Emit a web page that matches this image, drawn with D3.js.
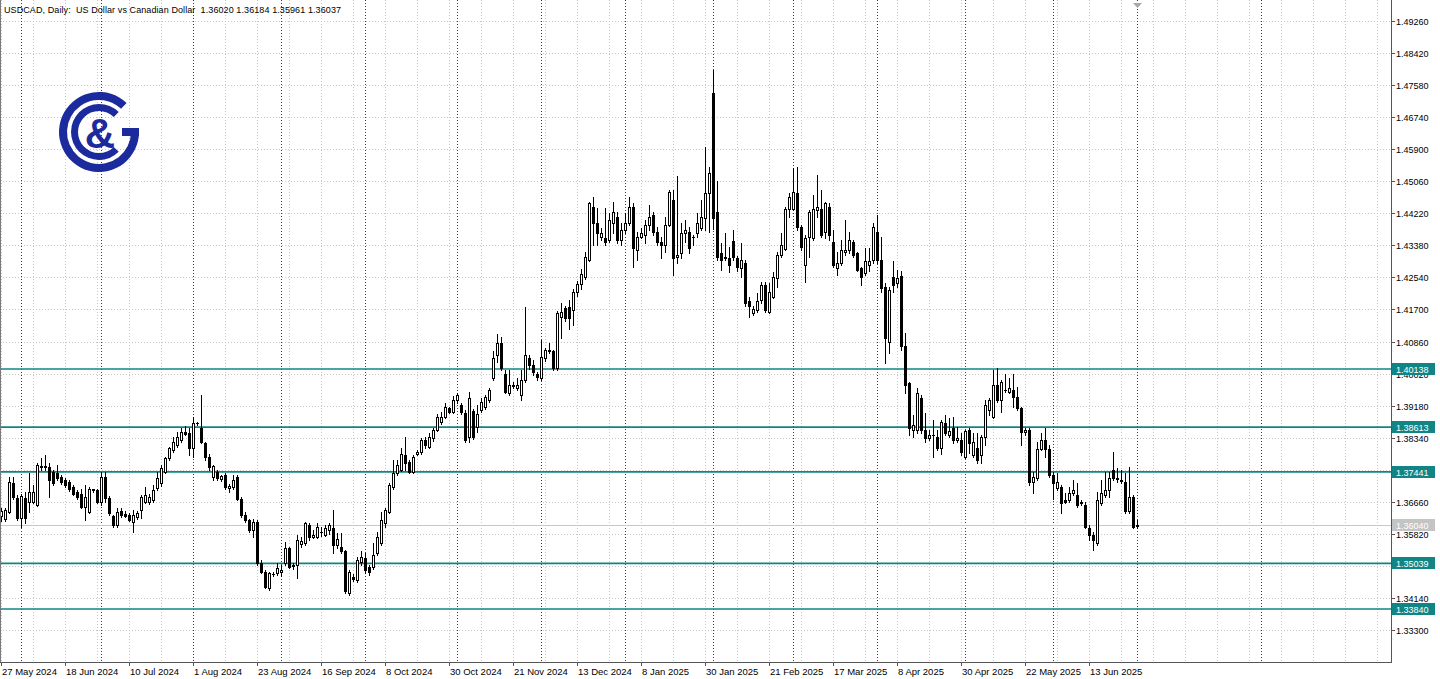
<!DOCTYPE html>
<html><head><meta charset="utf-8">
<script src="https://cdn.jsdelivr.net/npm/d3@7"></script>
<style>
html,body{margin:0;padding:0;background:#fff;overflow:hidden}
svg{display:block}
text{font-family:"Liberation Sans",Arial,sans-serif}
</style></head><body>
<svg id="chart" width="1440" height="679"></svg>
<script>
const title = "USDCAD, Daily:  US Dollar vs Canadian Dollar  1.36020 1.36184 1.35961 1.36037";
const dateLabels = ["27 May 2024","18 Jun 2024","10 Jul 2024","1 Aug 2024","23 Aug 2024","16 Sep 2024","8 Oct 2024","30 Oct 2024","21 Nov 2024","13 Dec 2024","8 Jan 2025","30 Jan 2025","21 Feb 2025","17 Mar 2025","8 Apr 2025","30 Apr 2025","22 May 2025","13 Jun 2025"];
const dateLabelBars = [0,16,32,48,64,80,96,112,128,144,160,176,192,208,224,240,256,272];
const monthStartBars = [5,25,48,70,91,114,135,156,178,198,219,241,263,284,315];
const priceTicks = [1.49260,1.48420,1.47580,1.46740,1.45900,1.45060,1.44220,1.43380,1.42540,1.41700,1.40860,1.40020,1.39180,1.38340,1.37500,1.36660,1.35820,1.34980,1.34140,1.33300];
const levels = [1.40138,1.38613,1.37441,1.35039,1.33840];
const lastPrice = 1.36040;

const open = [1.3628,1.3619,1.3639,1.3714,1.3675,1.3622,1.3675,1.3666,1.3666,1.3657,1.3760,1.3756,1.3756,1.3744,1.3740,1.3731,1.3722,1.3718,1.3705,1.3692,
1.3687,1.3652,1.3639,1.3696,1.3696,1.3666,1.3731,1.3675,1.3628,1.3604,1.3642,1.3634,1.3631,1.3613,1.3626,1.3644,1.3666,1.3666,1.3670,1.3701,
1.3714,1.3744,1.3779,1.3801,1.3814,1.3828,1.3849,1.3845,1.3806,1.3871,1.3860,1.3819,1.3784,1.3731,1.3744,1.3725,1.3736,1.3701,1.3705,1.3731,
1.3674,1.3630,1.3617,1.3591,1.3613,1.3504,1.3482,1.3439,1.3476,1.3478,1.3480,1.3504,1.3543,1.3500,1.3500,1.3555,1.3556,1.3604,1.3574,1.3574,
1.3587,1.3578,1.3591,1.3596,1.3552,1.3548,1.3535,1.3425,1.3469,1.3460,1.3508,1.3517,1.3495,1.3495,1.3530,1.3556,1.3609,1.3639,1.3705,1.3740,
1.3749,1.3788,1.3770,1.3744,1.3792,1.3797,1.3828,1.3810,1.3832,1.3854,1.3876,1.3889,1.3911,1.3902,1.3933,1.3920,1.3899,1.3836,1.3904,1.3862,
1.3906,1.3915,1.3932,1.3989,1.4050,1.4081,1.4002,1.3950,1.3972,1.3963,1.3946,1.3985,1.4042,1.4024,1.4002,1.3989,1.4042,1.4064,1.4060,1.4016,
1.4151,1.4173,1.4177,1.4169,1.4217,1.4236,1.4256,1.4300,1.4440,1.4396,1.4361,1.4357,1.4352,1.4396,1.4414,1.4352,1.4379,1.4396,1.4440,1.4326,
1.4361,1.4365,1.4392,1.4418,1.4374,1.4348,1.4339,1.4392,1.4457,1.4309,1.4318,1.4370,1.4374,1.4361,1.4370,1.4383,1.4409,1.4475,1.4737,1.4427,
1.4317,1.4309,1.4304,1.4351,1.4304,1.4278,1.4291,1.4191,1.4160,1.4169,1.4195,1.4234,1.4164,1.4204,1.4252,1.4313,1.4330,1.4435,1.4435,1.4475,
1.4387,1.4287,1.4361,1.4357,1.4431,1.4435,1.4374,1.4440,1.4348,1.4278,1.4291,1.4322,1.4326,1.4348,1.4317,1.4278,1.4265,1.4287,1.4300,1.4374,
1.4300,1.4230,1.4085,1.4256,1.4239,1.4258,1.4073,1.3976,1.3854,1.3854,1.3937,1.3854,1.3832,1.3841,1.3836,1.3806,1.3871,1.3841,1.3858,1.3828,
1.3828,1.3784,1.3854,1.3788,1.3806,1.3788,1.3836,1.3906,1.3889,1.3972,1.3933,1.3960,1.3954,1.3959,1.3941,1.3911,1.3849,1.3854,1.3718,1.3727,
1.3805,1.3827,1.3805,1.3736,1.3701,1.3705,1.3670,1.3670,1.3688,1.3683,1.3666,1.3657,1.3596,1.3578,1.3556,1.3661,1.3683,1.3696,1.3749,1.3727,
1.3723,1.3718,1.3640,1.3679,1.36020];
const high = [1.3650,1.3648,1.3731,1.3731,1.3683,1.3685,1.3690,1.3740,1.3709,1.3766,1.3779,1.3788,1.3766,1.3750,1.3762,1.3735,1.3727,1.3722,1.3710,1.3697,
1.3700,1.3709,1.3705,1.3700,1.3700,1.3744,1.3744,1.3680,1.3632,1.3648,1.3648,1.3640,1.3635,1.3644,1.3640,1.3683,1.3705,1.3685,1.3710,1.3744,
1.3762,1.3784,1.3810,1.3836,1.3849,1.3858,1.3863,1.3858,1.3889,1.3876,1.3945,1.3823,1.3790,1.3762,1.3750,1.3736,1.3740,1.3712,1.3736,1.3736,
1.3678,1.3639,1.3620,1.3620,1.3617,1.3513,1.3486,1.3482,1.3482,1.3504,1.3500,1.3561,1.3547,1.3505,1.3578,1.3573,1.3613,1.3609,1.3591,1.3609,
1.3600,1.3605,1.3610,1.3644,1.3583,1.3583,1.3540,1.3486,1.3475,1.3521,1.3535,1.3530,1.3500,1.3556,1.3587,1.3639,1.3648,1.3714,1.3775,1.3775,
1.3806,1.3836,1.3775,1.3788,1.3801,1.3832,1.3836,1.3845,1.3858,1.3897,1.3902,1.3924,1.3915,1.3943,1.3950,1.3924,1.3905,1.3954,1.3910,1.3919,
1.3937,1.3946,1.3963,1.4060,1.4107,1.4099,1.4010,1.4011,1.3980,1.3989,1.4011,1.4177,1.4050,1.4037,1.4005,1.4090,1.4068,1.4081,1.4064,1.4165,
1.4186,1.4180,1.4195,1.4225,1.4245,1.4276,1.4322,1.4453,1.4466,1.4436,1.4383,1.4436,1.4422,1.4453,1.4427,1.4396,1.4422,1.4466,1.4449,1.4374,
1.4383,1.4405,1.4444,1.4427,1.4387,1.4361,1.4414,1.4484,1.4484,1.4519,1.4396,1.4405,1.4387,1.4365,1.4422,1.4457,1.4597,1.4545,1.4798,1.4506,
1.4344,1.4370,1.4335,1.4379,1.4310,1.4344,1.4300,1.4204,1.4180,1.4212,1.4243,1.4243,1.4239,1.4269,1.4322,1.4370,1.4440,1.4475,1.4540,1.4545,
1.4392,1.4365,1.4431,1.4470,1.4523,1.4484,1.4453,1.4449,1.4379,1.4322,1.4352,1.4405,1.4374,1.4352,1.4320,1.4282,1.4331,1.4331,1.4396,1.4418,
1.4361,1.4239,1.4230,1.4296,1.4274,1.4272,1.4108,1.3981,1.3893,1.3963,1.3946,1.3898,1.3854,1.3880,1.3854,1.3880,1.3893,1.3884,1.3889,1.3862,
1.3845,1.3854,1.3858,1.3845,1.3845,1.3841,1.3932,1.3937,1.4011,1.4016,1.3985,1.4002,1.3989,1.4002,1.3967,1.3915,1.3858,1.3858,1.3744,1.3823,
1.3845,1.3858,1.3814,1.3744,1.3740,1.3709,1.3688,1.3705,1.3722,1.3714,1.3670,1.3666,1.3604,1.3587,1.3692,1.3722,1.3744,1.3744,1.3797,1.3753,
1.3749,1.3740,1.3757,1.3683,1.36184];
const low = [1.3614,1.3616,1.3637,1.3674,1.3618,1.3598,1.3610,1.3639,1.3661,1.3655,1.3749,1.3749,1.3679,1.3710,1.3722,1.3712,1.3703,1.3693,1.3683,1.3673,
1.3648,1.3618,1.3635,1.3690,1.3661,1.3657,1.3666,1.3630,1.3600,1.3600,1.3625,1.3625,1.3614,1.3587,1.3620,1.3622,1.3663,1.3660,1.3665,1.3696,
1.3707,1.3740,1.3775,1.3797,1.3810,1.3823,1.3840,1.3788,1.3784,1.3866,1.3819,1.3775,1.3750,1.3723,1.3722,1.3720,1.3700,1.3692,1.3700,1.3670,
1.3626,1.3613,1.3587,1.3574,1.3500,1.3478,1.3439,1.3434,1.3470,1.3474,1.3470,1.3500,1.3491,1.3490,1.3465,1.3546,1.3552,1.3565,1.3570,1.3570,
1.3575,1.3575,1.3580,1.3530,1.3543,1.3530,1.3425,1.3421,1.3458,1.3456,1.3500,1.3478,1.3474,1.3490,1.3526,1.3552,1.3600,1.3635,1.3700,1.3736,
1.3745,1.3749,1.3740,1.3740,1.3788,1.3792,1.3806,1.3806,1.3826,1.3850,1.3870,1.3885,1.3898,1.3898,1.3925,1.3895,1.3822,1.3822,1.3830,1.3849,
1.3900,1.3910,1.3928,1.3985,1.4033,1.4011,1.3950,1.3946,1.3963,1.3958,1.3933,1.3980,1.4015,1.3998,1.3985,1.3985,1.4035,1.4055,1.4011,1.4011,
1.4094,1.4140,1.4120,1.4129,1.4205,1.4225,1.4250,1.4296,1.4340,1.4340,1.4352,1.4340,1.4348,1.4370,1.4344,1.4339,1.4370,1.4392,1.4282,1.4300,
1.4357,1.4344,1.4379,1.4365,1.4339,1.4305,1.4322,1.4388,1.4261,1.4291,1.4305,1.4348,1.4317,1.4340,1.4361,1.4379,1.4379,1.4374,1.4380,1.4300,
1.4274,1.4300,1.4269,1.4300,1.4270,1.4256,1.4180,1.4151,1.4155,1.4164,1.4186,1.4164,1.4160,1.4199,1.4230,1.4309,1.4326,1.4414,1.4431,1.4379,
1.4326,1.4243,1.4309,1.4352,1.4414,1.4361,1.4357,1.4352,1.4282,1.4260,1.4287,1.4313,1.4317,1.4309,1.4270,1.4234,1.4261,1.4270,1.4291,1.4291,
1.4217,1.4029,1.4055,1.4217,1.4230,1.4065,1.3950,1.3841,1.3836,1.3845,1.3845,1.3823,1.3828,1.3784,1.3801,1.3792,1.3841,1.3836,1.3819,1.3823,
1.3788,1.3780,1.3793,1.3784,1.3766,1.3766,1.3815,1.3893,1.3884,1.3928,1.3902,1.3954,1.3950,1.3915,1.3906,1.3814,1.3841,1.3709,1.3688,1.3722,
1.3801,1.3784,1.3731,1.3674,1.3696,1.3635,1.3662,1.3666,1.3683,1.3653,1.3657,1.3596,1.3565,1.3539,1.3552,1.3657,1.3679,1.3679,1.3722,1.3718,
1.3714,1.3635,1.3635,1.3596,1.35961];
const close = [1.3641,1.3645,1.3718,1.3679,1.3622,1.3680,1.3622,1.3692,1.3692,1.3762,1.3756,1.3760,1.3722,1.3714,1.3727,1.3718,1.3709,1.3700,1.3687,1.3679,
1.3652,1.3679,1.3700,1.3698,1.3666,1.3731,1.3675,1.3635,1.3604,1.3639,1.3631,1.3629,1.3618,1.3631,1.3635,1.3679,1.3683,1.3679,1.3696,1.3727,
1.3753,1.3779,1.3806,1.3823,1.3836,1.3849,1.3843,1.3806,1.3871,1.3871,1.3823,1.3784,1.3756,1.3759,1.3727,1.3732,1.3705,1.3707,1.3723,1.3674,
1.3630,1.3617,1.3591,1.3613,1.3504,1.3482,1.3443,1.3478,1.3476,1.3491,1.3486,1.3543,1.3495,1.3498,1.3565,1.3563,1.3609,1.3574,1.3578,1.3600,
1.3585,1.3596,1.3604,1.3552,1.3569,1.3535,1.3430,1.3482,1.3462,1.3513,1.3521,1.3486,1.3482,1.3526,1.3574,1.3617,1.3644,1.3709,1.3740,1.3762,
1.3792,1.3766,1.3744,1.3784,1.3796,1.3828,1.3814,1.3836,1.3854,1.3889,1.3889,1.3913,1.3902,1.3933,1.3946,1.3900,1.3827,1.3937,1.3836,1.3897,
1.3928,1.3941,1.3959,1.4042,1.4081,1.4016,1.3954,1.3972,1.3968,1.3972,1.3985,1.4051,1.4024,1.4007,1.3994,1.4046,1.4064,1.4060,1.4016,1.4160,
1.4164,1.4147,1.4147,1.4217,1.4236,1.4264,1.4309,1.4449,1.4396,1.4370,1.4370,1.4348,1.4405,1.4427,1.4352,1.4379,1.4396,1.4440,1.4331,1.4361,
1.4370,1.4392,1.4414,1.4374,1.4348,1.4339,1.4392,1.4479,1.4304,1.4313,1.4370,1.4379,1.4331,1.4361,1.4396,1.4414,1.4475,1.4527,1.4409,1.4309,
1.4300,1.4304,1.4287,1.4307,1.4282,1.4300,1.4186,1.4178,1.4171,1.4191,1.4234,1.4169,1.4217,1.4256,1.4313,1.4339,1.4435,1.4466,1.4479,1.4387,
1.4335,1.4357,1.4427,1.4435,1.4440,1.4365,1.4449,1.4365,1.4287,1.4291,1.4326,1.4326,1.4352,1.4313,1.4274,1.4256,1.4296,1.4296,1.4387,1.4300,
1.4226,1.4094,1.4221,1.4234,1.4252,1.4073,1.3972,1.3858,1.3867,1.3950,1.3854,1.3832,1.3841,1.3840,1.3806,1.3876,1.3845,1.3850,1.3828,1.3832,
1.3797,1.3850,1.3819,1.3823,1.3775,1.3836,1.3920,1.3932,1.3972,1.3933,1.3981,1.3958,1.3963,1.3941,1.3911,1.3849,1.3854,1.3718,1.3731,1.3805,
1.3827,1.3805,1.3736,1.3714,1.3718,1.3661,1.3666,1.3688,1.3696,1.3657,1.3661,1.3600,1.3578,1.3565,1.3670,1.3688,1.3696,1.3727,1.3727,1.3725,
1.3719,1.3640,1.3679,1.3600,1.36037];

const svg = d3.select("#chart");
const W = 1440, H = 679;
const plotRight = 1391, plotBottom = 662;
const teal = "#118585";

const x = d3.scaleLinear().domain([0, 284]).range([1, 1137]);
const y = d3.scaleLinear().domain([1.33300, 1.49260]).range([629.6, 21.4]);
const px = v => Math.round(x(v));
const py = v => Math.round(y(v));

svg.append("rect").attr("width", W).attr("height", H).attr("fill", "#fff");

const grid = svg.append("g").attr("shape-rendering", "crispEdges");
grid.selectAll("line.h").data(priceTicks).join("line")
  .attr("x1", 0).attr("x2", plotRight)
  .attr("y1", d => py(d) + 0.5).attr("y2", d => py(d) + 0.5)
  .attr("stroke", "#c6c6c6").attr("stroke-dasharray", "1,2");
const vGrid = d3.range(0, 348, 8);
grid.selectAll("line.v").data(vGrid).join("line")
  .attr("x1", d => px(d) + 0.5).attr("x2", d => px(d) + 0.5)
  .attr("y1", 0).attr("y2", plotBottom)
  .attr("stroke", "#c6c6c6").attr("stroke-dasharray", "1,2");
grid.selectAll("line.m").data(monthStartBars).join("line")
  .attr("x1", d => px(d) + 0.5).attr("x2", d => px(d) + 0.5)
  .attr("y1", 0).attr("y2", plotBottom)
  .attr("stroke", "#3c3c3c").attr("stroke-dasharray", "1,2");

// logo
const logo = svg.append("g").attr("transform", "translate(99,132)");
const logoColor = "#1b2a9c";
const arc = d3.arc();
logo.append("path").attr("fill", logoColor)
  .attr("d", arc({innerRadius: 32, outerRadius: 40, startAngle: Math.PI/2, endAngle: 2*Math.PI + 0.76}));
logo.append("rect").attr("x", 23).attr("y", -4).attr("width", 17).attr("height", 8).attr("fill", logoColor);
logo.append("path").attr("fill", logoColor)
  .attr("d", arc({innerRadius: 21, outerRadius: 28, startAngle: 2.36, endAngle: 2*Math.PI + 0.78}));
logo.append("text").attr("x", 1).attr("y", 16).attr("text-anchor", "middle")
  .attr("font-family", "DejaVu Sans, sans-serif").attr("font-weight", "bold")
  .attr("font-size", 42).attr("fill", logoColor).text("&");

// last price line
svg.append("line").attr("x1", 0).attr("x2", plotRight)
  .attr("y1", py(lastPrice) + 0.5).attr("y2", py(lastPrice) + 0.5)
  .attr("stroke", "#c8c8c8").attr("shape-rendering", "crispEdges");

// level lines
svg.append("g").selectAll("line").data(levels).join("line")
  .attr("x1", 0).attr("x2", plotRight)
  .attr("y1", d => y(d)).attr("y2", d => y(d))
  .attr("stroke", teal).attr("stroke-width", 1.7);

// candles
const bars = d3.range(open.length);
const cg = svg.append("g").attr("shape-rendering", "crispEdges");
cg.selectAll("line.w").data(bars).join("line")
  .attr("x1", i => px(i) + 0.5).attr("x2", i => px(i) + 0.5)
  .attr("y1", i => py(high[i])).attr("y2", i => py(low[i]) + 1)
  .attr("stroke", "#000");
cg.selectAll("rect.b").data(bars.filter(i => py(open[i]) !== py(close[i]))).join("rect")
  .attr("x", i => px(i) - 0.5)
  .attr("y", i => py(Math.max(open[i], close[i])) + 0.5)
  .attr("width", 2)
  .attr("height", i => Math.abs(py(open[i]) - py(close[i])))
  .attr("fill", i => close[i] >= open[i] ? "#fff" : "#000")
  .attr("stroke", "#000");
cg.selectAll("line.d").data(bars.filter(i => py(open[i]) === py(close[i]))).join("line")
  .attr("x1", i => px(i) - 1).attr("x2", i => px(i) + 2)
  .attr("y1", i => py(close[i]) + 0.5).attr("y2", i => py(close[i]) + 0.5)
  .attr("stroke", "#000");

// frame
const frame = svg.append("g").attr("shape-rendering", "crispEdges");
frame.append("line").attr("x1", 0.5).attr("x2", 0.5).attr("y1", 0).attr("y2", plotBottom).attr("stroke", "#7a7a7a");
frame.append("line").attr("x1", plotRight + 0.5).attr("x2", plotRight + 0.5).attr("y1", 0).attr("y2", plotBottom + 1).attr("stroke", "#555");
frame.append("line").attr("x1", 0).attr("x2", plotRight + 1).attr("y1", plotBottom + 0.5).attr("y2", plotBottom + 0.5).attr("stroke", "#555");

// shift marker
svg.append("path")
  .attr("d", d3.line()([[px(284) - 4, 3], [px(284) + 5, 3], [px(284) + 0.5, 8]]) + "Z")
  .attr("fill", "#a8a8a8");

// right axis: labels fully hidden behind a level label are not drawn (as in the reference)
const covered = d => levels.some(l => Math.abs(py(l) - py(d)) < 4);
const visibleTicks = priceTicks.filter(d => !covered(d));
const ra = svg.append("g");
ra.selectAll("line").data(priceTicks).join("line")
  .attr("x1", plotRight).attr("x2", plotRight + 4)
  .attr("y1", d => py(d) + 0.5).attr("y2", d => py(d) + 0.5)
  .attr("stroke", "#555").attr("shape-rendering", "crispEdges");
ra.selectAll("text").data(visibleTicks).join("text")
  .attr("x", plotRight + 5).attr("y", d => py(d) + 3.5)
  .attr("font-size", 9).attr("fill", "#000")
  .text(d => d.toFixed(5));

// level labels
const lab = svg.append("g");
lab.selectAll("rect").data(levels).join("rect")
  .attr("x", plotRight + 1).attr("y", d => py(d) - 6).attr("width", 43).attr("height", 12)
  .attr("fill", teal);
lab.selectAll("text").data(levels).join("text")
  .attr("x", plotRight + 5).attr("y", d => py(d) + 3.5)
  .attr("font-size", 9).attr("fill", "#fff").text(d => d.toFixed(5));
svg.append("rect").attr("x", plotRight + 1).attr("y", py(lastPrice) - 6).attr("width", 43).attr("height", 12).attr("fill", "#c4c4c4");
svg.append("text").attr("x", plotRight + 5).attr("y", py(lastPrice) + 3.5)
  .attr("font-size", 9).attr("fill", "#fff").text(lastPrice.toFixed(5));

// bottom axis
const ba = svg.append("g");
ba.selectAll("line").data(dateLabelBars).join("line")
  .attr("x1", d => px(d) + 0.5).attr("x2", d => px(d) + 0.5)
  .attr("y1", plotBottom).attr("y2", plotBottom + 4)
  .attr("stroke", "#555").attr("shape-rendering", "crispEdges");
ba.selectAll("text").data(dateLabels).join("text")
  .attr("x", (d, i) => px(dateLabelBars[i]) + 1).attr("y", 675)
  .attr("font-size", 9.5).attr("fill", "#000").text(d => d);

// title
svg.append("text").attr("x", 4).attr("y", 13).attr("font-size", 9).attr("fill", "#000")
  .attr("textLength", 337).attr("lengthAdjust", "spacing")
  .style("white-space", "pre").text(title);
</script>
</body></html>
